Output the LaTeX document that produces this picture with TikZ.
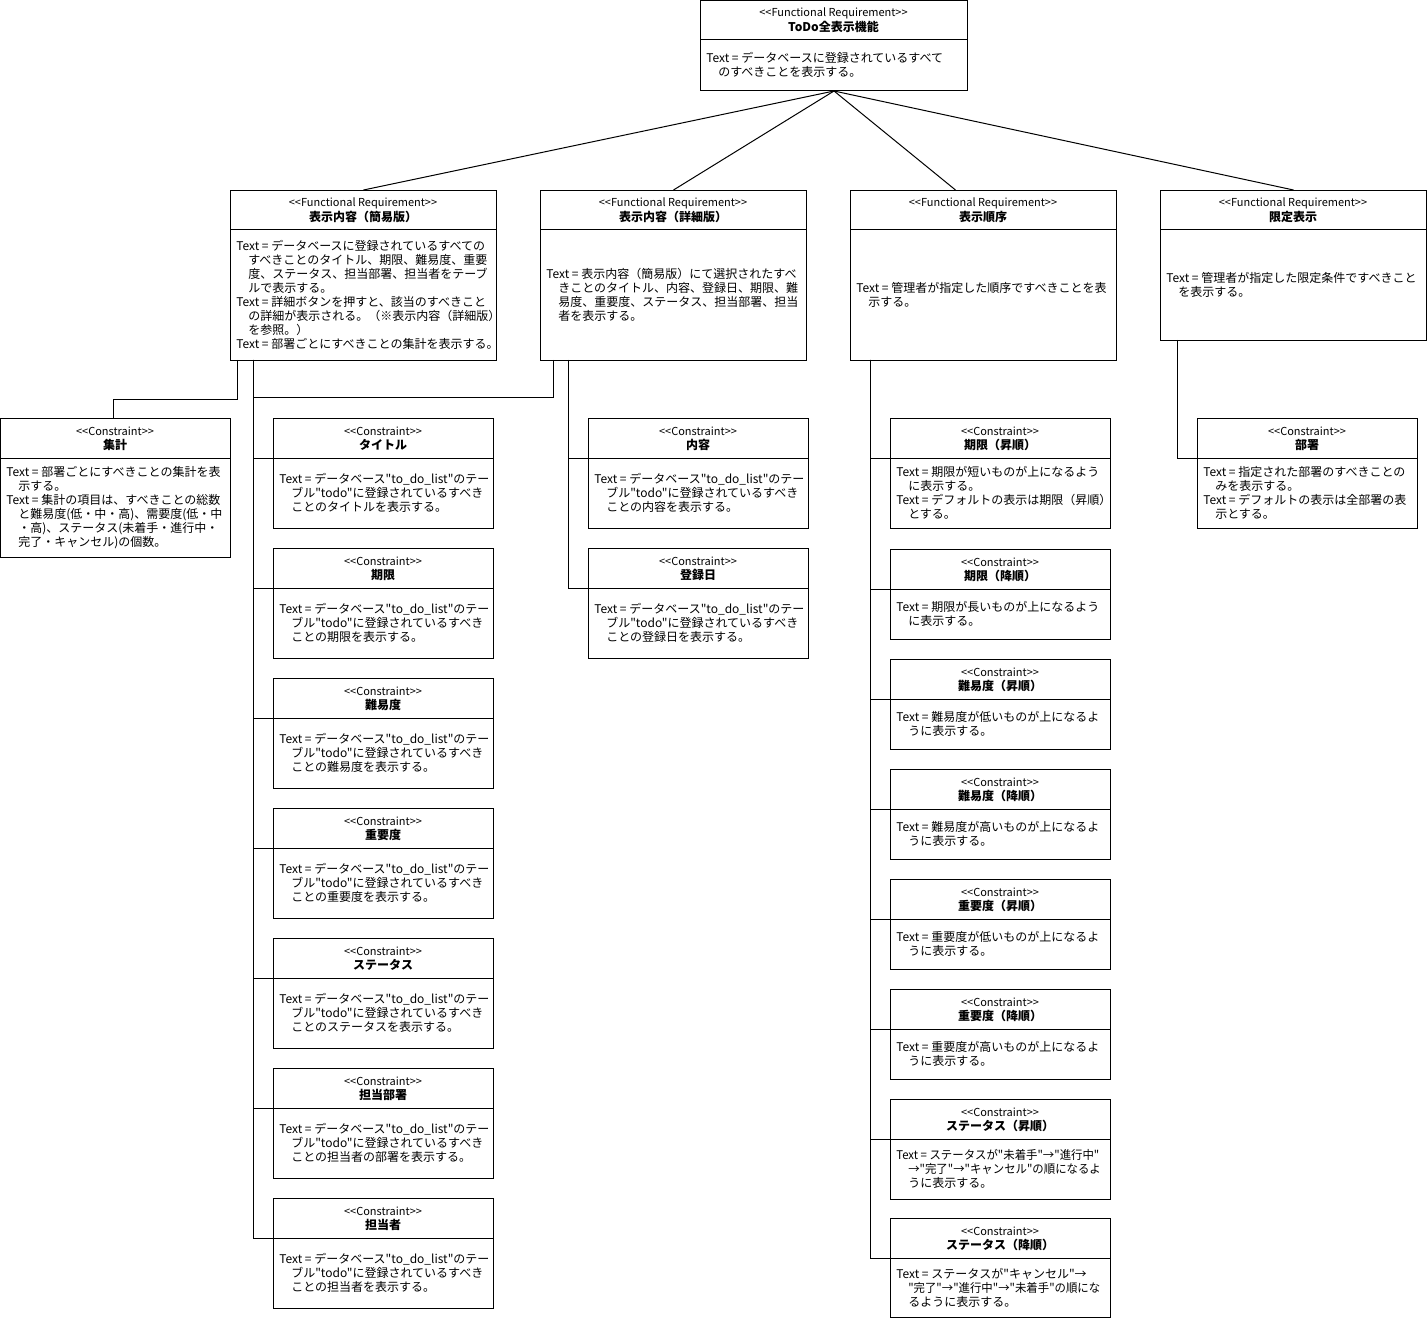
\documentclass[tikz,border=0pt]{standalone}
\usepackage{fontspec}
\usepackage{graphicx}
\newfontfamily\jp{Noto Sans CJK JP}
\usetikzlibrary{calc}
\newcommand{\hind}{\hspace*{9pt}}
\newcommand{\sq}[1]{\scalebox{0.95}[1]{#1}}
\tikzset{
  umlbox/.style={draw=black, line width=0.75pt, fill=white, anchor=north west, inner sep=0pt},
  divline/.style={draw=black, line width=0.75pt},
  conn/.style={draw=black, line width=0.75pt},
  stereo/.style={font=\jp\fontsize{8.25}{10}\selectfont, inner sep=0pt, anchor=center},
  ttl/.style={font=\jp\bfseries\fontsize{9}{10.5}\selectfont, inner sep=0pt, anchor=center},
  bodytxt/.style={font=\jp\fontsize{9}{10.5}\selectfont, inner sep=0pt, anchor=west, align=left},
}
\newcommand{\umlbox}[8]{%
  \node[umlbox, minimum width=#4*0.75pt, minimum height=#5*0.75pt] (#1) at (#2,#3) {};
  \draw[divline] (#2,{#3+40}) -- ({#2+#4},{#3+40});
  \node[stereo] (#1-s) at ({#2+#4/2},{#3+13}) {#6};
  \node[ttl] (#1-t) at ({#2+#4/2},{#3+27}) {#7};
  \node[bodytxt] (#1-b) at ({#2+6},{#3+40+(#5-40)/2}) {#8};
}
\newcommand{\FR}{<{}<Functional Requirement>{}>}
\newcommand{\CS}{<{}<Constraint>{}>}
\newcommand{\dbtext}[1]{Text = データベース"to\_do\_list"のテー\\\hind ブル"todo"に登録されているすべき\\\hind ことの#1を表示する。}
\begin{document}
\begin{tikzpicture}[x=0.75pt,y=-0.75pt]
\useasboundingbox (0,0) rectangle (1428,1319);
\fill[white] (0,0) rectangle (1428,1319);

% top
\umlbox{top}{700}{0}{267}{90}{\FR}{ToDo全表示機能}{Text = データベースに登録されているすべて\\\hind のすべきことを表示する。}

% functional requirements
\umlbox{fr1}{230}{190}{266}{170}{\FR}{表示内容（簡易版）}{Text = データベースに登録されているすべての\\\hind すべきことのタイトル、期限、難易度、重要\\\hind 度、ステータス、担当部署、担当者をテーブ\\\hind ルで表示する。\\Text = 詳細ボタンを押すと、該当のすべきこと\\\hind の詳細が表示される。（※表示内容（詳細版）\\\hind を参照。）\\Text = 部署ごとにすべきことの集計を表示する。}
\umlbox{fr2}{540}{190}{266}{170}{\FR}{表示内容（詳細版）}{Text = 表示内容（簡易版）にて選択されたすべ\\\hind きことのタイトル、内容、登録日、期限、難\\\hind 易度、重要度、ステータス、担当部署、担当\\\hind 者を表示する。}
\umlbox{fr3}{850}{190}{266}{170}{\FR}{表示順序}{Text = 管理者が指定した順序ですべきことを表\\\hind 示する。}
\umlbox{fr4}{1160}{190}{266}{150}{\FR}{限定表示}{Text = 管理者が指定した限定条件ですべきこと\\\hind を表示する。}

% constraints
\umlbox{agg}{0}{418}{230}{139}{\CS}{集計}{Text = 部署ごとにすべきことの集計を表\\\hind 示する。\\Text = 集計の項目は、すべきことの総数\\\hind と難易度(低・中・高)、需要度(低・中\\\hind ・高)、ステータス(未着手・進行中・\\\hind 完了・キャンセル)の個数。}

\umlbox{k1}{273}{418}{220}{110}{\CS}{タイトル}{\dbtext{タイトル}}
\umlbox{k2}{273}{548}{220}{110}{\CS}{期限}{\dbtext{期限}}
\umlbox{k3}{273}{678}{220}{110}{\CS}{難易度}{\dbtext{難易度}}
\umlbox{k4}{273}{808}{220}{110}{\CS}{重要度}{\dbtext{重要度}}
\umlbox{k5}{273}{938}{220}{110}{\CS}{ステータス}{\dbtext{ステータス}}
\umlbox{k6}{273}{1068}{220}{110}{\CS}{担当部署}{\dbtext{担当者の部署}}
\umlbox{k7}{273}{1198}{220}{110}{\CS}{担当者}{\dbtext{担当者}}

\umlbox{d1}{588}{418}{220}{110}{\CS}{内容}{\dbtext{内容}}
\umlbox{d2}{588}{548}{220}{110}{\CS}{登録日}{\dbtext{登録日}}

\umlbox{o1}{890}{418}{220}{110}{\CS}{期限（昇順）}{Text = 期限が短いものが上になるよう\\\hind に表示する。\\Text = デフォルトの表示は期限（昇順）\\\hind とする。}
\umlbox{o2}{890}{549}{220}{90}{\CS}{期限（降順）}{Text = 期限が長いものが上になるよう\\\hind に表示する。}
\umlbox{o3}{890}{659}{220}{90}{\CS}{難易度（昇順）}{Text = 難易度が低いものが上になるよ\\\hind うに表示する。}
\umlbox{o4}{890}{769}{220}{90}{\CS}{難易度（降順）}{Text = 難易度が高いものが上になるよ\\\hind うに表示する。}
\umlbox{o5}{890}{879}{220}{90}{\CS}{重要度（昇順）}{Text = 重要度が低いものが上になるよ\\\hind うに表示する。}
\umlbox{o6}{890}{989}{220}{90}{\CS}{重要度（降順）}{Text = 重要度が高いものが上になるよ\\\hind うに表示する。}
\umlbox{o7}{890}{1099}{220}{100}{\CS}{ステータス（昇順）}{\sq{Text = ステータスが"未着手"→"進行中"}\\\hind \sq{→"完了"→"キャンセル"の順になるよ}\\\hind うに表示する。}
\umlbox{o8}{890}{1218}{220}{99}{\CS}{ステータス（降順）}{Text = ステータスが"キャンセル"→\\\hind \sq{"完了"→"進行中"→"未着手"の順にな}\\\hind るように表示する。}

\umlbox{u1}{1197}{418}{220}{110}{\CS}{部署}{Text = 指定された部署のすべきことの\\\hind みを表示する。\\Text = デフォルトの表示は全部署の表\\\hind 示とする。}

% connectors: top to functional requirements
\draw[conn] (top.south) -- (fr1.north);
\draw[conn] (top.south) -- (fr2.north);
\draw[conn] (top.south) -- ($(fr3.north)+(-28,0)$);
\draw[conn] (top.south) -- (fr4.north);

% fr1 children
\coordinate (a1) at (237,360);
\draw[conn] (a1) -- ++(0,40) -| ($(agg.north)+(-2,0)$);
\coordinate (b1) at (253,360);
\foreach \k in {k1,k2,k3,k4,k5,k6,k7}{
  \draw[conn] (b1) |- ($(\k.north west)+(0,40)$);
}
% fr2 link
\coordinate (c2) at (553,360);
\coordinate (c2e) at (253,398);
\draw[conn] (c2) |- (c2e);
\coordinate (b2) at (568,360);
\foreach \k in {d1,d2}{
  \draw[conn] (b2) |- ($(\k.north west)+(0,40)$);
}
% fr3 children
\coordinate (b3) at (870,360);
\foreach \k in {o1,o2,o3,o4,o5,o6,o7,o8}{
  \draw[conn] (b3) |- ($(\k.north west)+(0,40)$);
}
% fr4 child
\coordinate (b4) at (1177,340);
\draw[conn] (b4) |- ($(u1.north west)+(0,40)$);
\end{tikzpicture}
\end{document}
